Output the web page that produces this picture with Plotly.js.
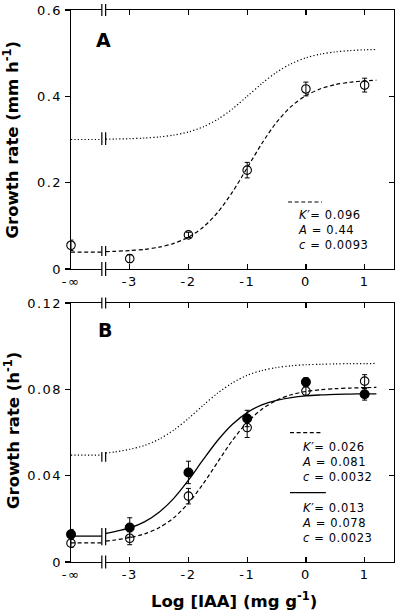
<!DOCTYPE html>
<html>
<head>
<meta charset="utf-8">
<script src="https://cdn.plot.ly/plotly-3.0.1.min.js"></script>
<style>
html,body{margin:0;padding:0;background:#fff;}
#chart{width:400px;height:612px;}
.xtick text,.x2tick text,.ytick text,.y2tick text{letter-spacing:1.5px;}
.annotation[data-index="0"] text,.annotation[data-index="1"] text,.annotation[data-index="2"] text{letter-spacing:0.6px;}
</style>
</head>
<body>
<div id="chart"></div>
<script>
// ---- data ----
const tickVals = [-4, -3, -2, -1, 0, 1];          // -4 stands for log(0) = -inf
const tickText = ['-\u221E', '-3', '-2', '-1', '0', '1'];
const logIAA = [-4, -3, -2, -1, 0, 1];

// Panel A (mm h-1)
const rateA = [0.055, 0.024, 0.079, 0.229, 0.417, 0.426];
const errA  = [0.012, 0.009, 0.006, 0.018, 0.016, 0.016];

// Panel B (h-1)
const rateBopen   = [0.0087, 0.0110, 0.0305, 0.0623, 0.0792, 0.0838];
const errBopen    = [0.0020, 0.0030, 0.0036, 0.0046, 0.0020, 0.0030];
const rateBfilled = [0.0128, 0.0160, 0.0415, 0.0665, 0.0834, 0.0777];
const errBfilled  = [0.0023, 0.0045, 0.0052, 0.0038, 0.0020, 0.0027];

// fitted curves, sampled along log[IAA]
const curveX = [-3.41, -3.25, -3, -2.75, -2.5, -2.25, -2, -1.75, -1.5, -1.25, -1, -0.75, -0.5, -0.25, 0, 0.25, 0.5, 0.75, 1, 1.2];
const fitA    = [0.0402,0.0410,0.0426,0.0455,0.0506,0.0592,0.0737,0.0968,0.1315,0.1785,0.2343,0.2908,0.3398,0.3767,0.4018,0.4176,0.4271,0.4326,0.4358,0.4374];
const dotA    = [0.3007,0.3011,0.3019,0.3033,0.3059,0.3102,0.3175,0.3292,0.3469,0.3710,0.4000,0.4297,0.4558,0.4756,0.4892,0.4978,0.5029,0.5060,0.5077,0.5086];
const fitBopen   = [0.0097,0.0102,0.0113,0.0130,0.0159,0.0205,0.0273,0.0362,0.0464,0.0564,0.0647,0.0708,0.0749,0.0775,0.0790,0.0798,0.0803,0.0806,0.0808,0.0809];
const fitBfilled = [0.0132,0.0141,0.0158,0.0186,0.0231,0.0295,0.0379,0.0474,0.0564,0.0638,0.0692,0.0728,0.0749,0.0762,0.0770,0.0774,0.0777,0.0778,0.0779,0.0779];
const dotB    = [0.0505,0.0510,0.0522,0.0540,0.0569,0.0611,0.0665,0.0726,0.0783,0.0830,0.0865,0.0887,0.0901,0.0909,0.0914,0.0916,0.0918,0.0919,0.0919,0.0920];

// values at log = -inf (left of the axis break)
const baseX = [-4, -3.475];
const baseFitA = 0.039, baseDotA = 0.300;
const baseBopen = 0.0089, baseBfilled = 0.0120, baseDotB = 0.0495;

const legendA = ['<i>K</i>\u2032= 0.096', '<i>A</i> = 0.44', '<i>c</i> = 0.0093'];
const legendBdash = ['<i>K</i>\u2032= 0.026', '<i>A</i> = 0.081', '<i>c</i> = 0.0032'];
const legendBsolid = ['<i>K</i>\u2032= 0.013', '<i>A</i> = 0.078', '<i>c</i> = 0.0023'];

// ---- styles ----
const DASH = '4px,2.6px';
const DOT = '1.2px,2.2px';
const LW = 1.2;
const blk = '#000';

function line(x, y, xa, ya, dash, w) {
  return {x: x, y: y, xaxis: xa, yaxis: ya, mode: 'lines', type: 'scatter',
          line: {color: blk, width: w || LW, dash: dash, shape: 'spline', smoothing: 0.8},
          hoverinfo: 'skip', showlegend: false};
}
function pts(y, e, xa, ya, filled) {
  return {x: logIAA, y: y, xaxis: xa, yaxis: ya, mode: 'markers', type: 'scatter', cliponaxis: false,
          marker: filled ? {symbol: 'circle', size: 10, color: blk}
                         : {symbol: 'circle-open', size: 8.5, color: blk, line: {width: 1.1, color: blk}},
          error_y: {type: 'data', array: e, visible: true, color: blk, thickness: 1, width: 2.5},
          showlegend: false};
}
const rep = (v) => baseX.map(() => v);

const traces = [
  line(baseX, rep(baseDotA), 'x', 'y', DOT),
  line(curveX, dotA, 'x', 'y', DOT),
  line(baseX, rep(baseFitA), 'x', 'y', DASH),
  line(curveX, fitA, 'x', 'y', DASH),
  pts(rateA, errA, 'x', 'y', false),

  line(baseX, rep(baseDotB), 'x2', 'y2', DOT),
  line(curveX, dotB, 'x2', 'y2', DOT),
  line(baseX, rep(baseBopen), 'x2', 'y2', DASH),
  line(curveX, fitBopen, 'x2', 'y2', DASH),
  line(baseX, rep(baseBfilled), 'x2', 'y2', 'solid', 1.3),
  line(curveX, fitBfilled, 'x2', 'y2', 'solid', 1.3),
  pts(rateBfilled, errBfilled, 'x2', 'y2', true),
  pts(rateBopen, errBopen, 'x2', 'y2', false),
  // carriers for right-hand (inside) tick axes
  {x: [null], y: [null], xaxis: 'x', yaxis: 'y3', type: 'scatter', mode: 'markers', showlegend: false, hoverinfo: 'skip'},
  {x: [null], y: [null], xaxis: 'x2', yaxis: 'y4', type: 'scatter', mode: 'markers', showlegend: false, hoverinfo: 'skip'}
];

const tickFont = {family: 'DejaVu Sans', size: 13, color: blk};
function xax(anchor) {
  return {range: [-4, 1.5], anchor: anchor, tickmode: 'array', tickvals: tickVals, ticktext: tickText,
          ticks: 'inside', ticklen: 5, tickwidth: 1.3, tickcolor: blk, showline: true, linewidth: 1.3,
          linecolor: blk, mirror: 'ticks', showgrid: false, zeroline: false, tickfont: tickFont,
          fixedrange: true};
}
function yax(range, vals, txt, domain, anchor) {
  return {range: range, domain: domain, anchor: anchor, tickmode: 'array', tickvals: vals, ticktext: txt,
          ticks: 'outside', ticklen: 5, tickwidth: 1.3, tickcolor: blk, showline: true, linewidth: 1.3,
          linecolor: blk, mirror: true, showgrid: false, zeroline: false, tickfont: tickFont, fixedrange: true};
}
function yright(range, vals, over, anchor) {
  return {range: range, overlaying: over, side: 'right', anchor: anchor, tickmode: 'array', tickvals: vals,
          ticks: 'inside', ticklen: 5, tickwidth: 1.3, tickcolor: blk, showticklabels: false,
          showline: false, showgrid: false, zeroline: false, fixedrange: true};
}

const yA = [0, 0.2, 0.4, 0.6], yAt = ['0', '0.2', '0.4', '0.6'];
const yB = [0, 0.04, 0.08, 0.12], yBt = ['0', '0.04', '0.08', '0.12'];
const domA = [0.5308, 1], domB = [0, 0.4692];

// ---- decorations: axis breaks, legend samples ----
const shapes = [];
const bx0 = -3.475, bx1 = -3.41;
function axisBreak(xref, py, half) {
  shapes.push({type: 'rect', xref: xref, yref: 'paper', x0: bx0, x1: bx1, y0: py - 0.004, y1: py + 0.004,
               fillcolor: '#fff', line: {width: 0}, layer: 'above'});
  [bx0, bx1].forEach(function (bx) {
    shapes.push({type: 'line', xref: xref, yref: 'paper', x0: bx, x1: bx, y0: py - half, y1: py + half,
                 line: {color: blk, width: 1.2}, layer: 'above'});
  });
}
axisBreak('x', domA[0], 0.0125);
axisBreak('x', domA[1], 0.011);
axisBreak('x2', domB[0], 0.0118);
axisBreak('x2', domB[1], 0.010);
function curveBreak(xref, yref, y0, y1) {
  [bx0, bx1].forEach(function (bx) {
    shapes.push({type: 'line', xref: xref, yref: yref, x0: bx, x1: bx, y0: y0, y1: y1,
                 line: {color: blk, width: 1.2}, layer: 'above'});
  });
}
curveBreak('x', 'y', 0.030, 0.053);
curveBreak('x', 'y', 0.287, 0.317);
curveBreak('x2', 'y2', 0.0078, 0.0157);
curveBreak('x2', 'y2', 0.0464, 0.0510);

function sample(x0, x1, y, dash) {
  shapes.push({type: 'line', xref: 'paper', yref: 'paper', x0: x0, x1: x1, y0: y, y1: y,
               line: {color: blk, width: 1.2, dash: dash}});
}
sample(0.672, 0.777, 0.6522, DASH);
sample(0.678, 0.780, 0.2342, DASH);
sample(0.678, 0.789, 0.1255, 'solid');

const annotations = [];
const legFont = {family: 'DejaVu Sans', size: 11.5, color: blk};
function legendBlock(lines, x, yMid) {
  annotations.push({text: lines.join('<br>'), xref: 'paper', yref: 'paper', x: x, y: yMid, xanchor: 'left',
                    align: 'left', yanchor: 'middle', showarrow: false, font: legFont, borderpad: 0});
}
legendBlock(legendA, 0.6997, 0.6020);
legendBlock(legendBdash, 0.7110, 0.1810);
legendBlock(legendBsolid, 0.7110, 0.0706);

const titleFont = {family: 'DejaVu Sans', size: 16.5, color: blk, weight: 'bold'};
annotations.push({text: '<b>A</b>', xref: 'paper', yref: 'paper', x: 0.1006, y: 0.9457, showarrow: false,
                  xanchor: 'center', yanchor: 'middle', font: {family: 'DejaVu Sans', size: 19, color: blk}});
annotations.push({text: '<b>B</b>', xref: 'paper', yref: 'paper', x: 0.1053, y: 0.4194, showarrow: false,
                  xanchor: 'center', yanchor: 'middle', font: {family: 'DejaVu Sans', size: 19, color: blk}});
annotations.push({text: '<b>Growth rate (mm h<sup>-1</sup>)</b>', xref: 'paper', yref: 'paper', x: -0.1827, y: 0.7654,
                  textangle: -90, showarrow: false, xanchor: 'center', yanchor: 'middle', font: titleFont});
annotations.push({text: '<b>Growth rate (h<sup>-1</sup>)</b>', xref: 'paper', yref: 'paper', x: -0.1827, y: 0.2391,
                  textangle: -90, showarrow: false, xanchor: 'center', yanchor: 'middle', font: titleFont});
annotations.push({text: '<b>Log [IAA] (mg g<sup>-1</sup>)</b>', xref: 'paper', yref: 'paper', x: 0.506, y: -0.0688,
                  showarrow: false, xanchor: 'center', yanchor: 'middle', font: titleFont});

const layout = {
  width: 400, height: 612,
  margin: {l: 71, r: 6, t: 10, b: 50, pad: 0},
  paper_bgcolor: '#fff', plot_bgcolor: '#fff',
  showlegend: false,
  xaxis: xax('y'),
  yaxis: yax([0, 0.6], yA, yAt, domA, 'x'),
  xaxis2: xax('y2'),
  yaxis2: yax([0, 0.12], yB, yBt, domB, 'x2'),
  yaxis3: yright([0, 0.6], yA, 'y', 'x'),
  yaxis4: yright([0, 0.12], yB, 'y2', 'x2'),
  shapes: shapes,
  annotations: annotations
};

Plotly.newPlot('chart', traces, layout, {staticPlot: true, displayModeBar: false});
</script>
</body>
</html>
